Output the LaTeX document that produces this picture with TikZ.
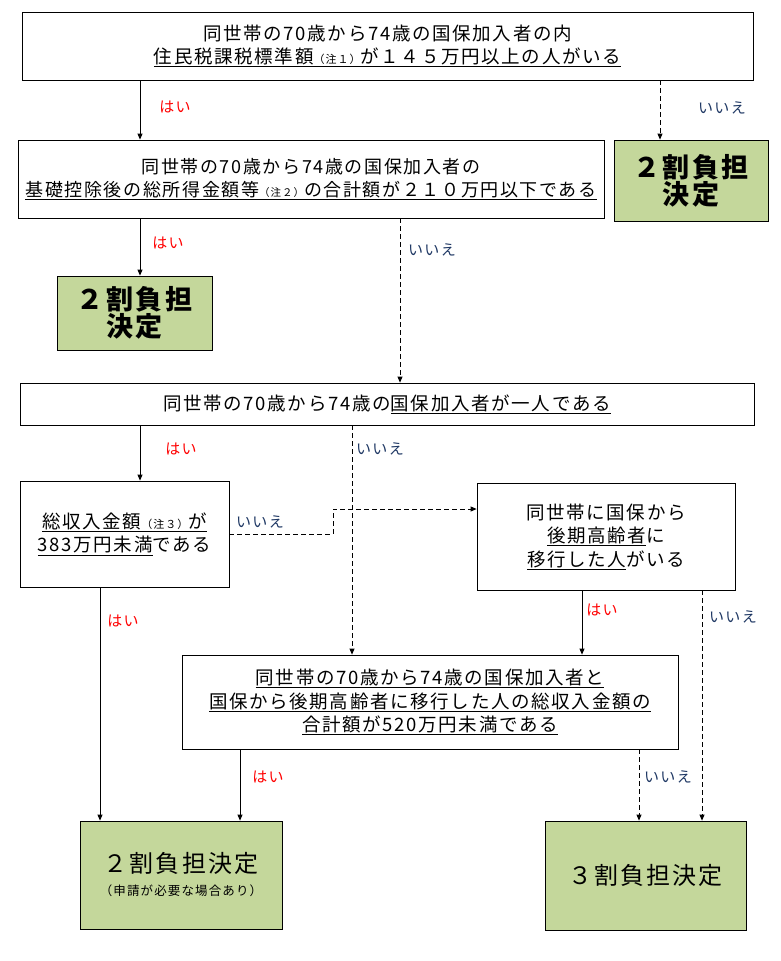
\documentclass[tikz,border=0pt]{standalone}
\usepackage{fontspec}
\setmainfont{Noto Sans CJK JP}
\newfontfamily\jp[LetterSpace=9]{Noto Sans CJK JP}
\usetikzlibrary{arrows.meta}
\definecolor{okgreen}{RGB}{196,215,155}
\definecolor{nored}{RGB}{255,0,0}
\definecolor{nonavy}{RGB}{31,56,100}
\newcommand{\chu}[1]{{\fontsize{11}{11}\selectfont #1}}
\begin{document}
\begin{tikzpicture}[x=1pt,y=-1pt,
  qbox/.style={draw=black, line width=0.8pt, inner sep=2pt, align=center,
    font=\jp\fontsize{18.5}{23.5}\selectfont},
  gbox/.style={qbox, fill=okgreen},
  yeslbl/.style={text=nored, font=\jp\fontsize{15}{15}\selectfont, inner sep=0pt},
  nolbl/.style={text=nonavy, font=\jp\fontsize{15}{15}\selectfont, inner sep=0pt},
  yesarrow/.style={draw=black, line width=0.8pt, -{Triangle[length=6pt,width=5pt]}},
  noarrow/.style={yesarrow, dash pattern=on 5pt off 3pt}
]
\fill[white] (0,0) rectangle (781,961);
\useasboundingbox (0,0) rectangle (781,961);

% boxes
\node[qbox, minimum width=731pt, minimum height=68pt] (n1) at (387.5,46)
  {同世帯の70歳から74歳の国保加入者の内\\\underline{住民税課税標準額\chu{（注１）}が１４５万円以上の人がいる}};
\node[qbox, minimum width=586pt, minimum height=78pt, inner sep=0pt,
  font=\jp\fontsize{18}{23.5}\selectfont] (n2) at (311,179)
  {同世帯の70歳から74歳の国保加入者の\\\underline{基礎控除後の総所得金額等{\fontsize{10.5}{10.5}\selectfont（注２）}の合計額が２１０万円以下である}};
\node[gbox, minimum width=154pt, minimum height=81pt,
  font=\jp\bfseries\fontsize{27}{25}\selectfont] (g1) at (691,180.5) {２割負担\\決定};
\node[gbox, minimum width=155pt, minimum height=74pt,
  font=\jp\bfseries\fontsize{27}{25}\selectfont] (g2) at (134.5,313) {２割負担\\決定};
\node[qbox, minimum width=734pt, minimum height=42pt] (n3) at (387,404)
  {同世帯の70歳から74歳の\underline{国保加入者が一人である}};
\node[qbox, minimum width=209pt, minimum height=106pt] (n4) at (124.5,534)
  {\underline{総収入金額\chu{（注３）}が}\\\underline{383万円未満}である};
\node[qbox, minimum width=258pt, minimum height=107pt] (n5) at (606,536.5)
  {同世帯に国保から\\\underline{後期高齢者}に\\\underline{移行した人}がいる};
\node[qbox, minimum width=496pt, minimum height=94pt] (n6) at (430,702)
  {\underline{同世帯の70歳から74歳の国保加入者と}\\\underline{国保から後期高齢者に移行した人の総収入金額の}\\\underline{合計額が520万円未満である}};
\node[gbox, minimum width=202pt, minimum height=108pt,
  font=\jp\fontsize{12.5}{23}\selectfont] (g3) at (181,875)
  {{\fontsize{24}{24}\selectfont ２割負担決定}\\（申請が必要な場合あり）};
\node[gbox, minimum width=201pt, minimum height=109pt,
  font=\jp\fontsize{24}{24}\selectfont] (g4) at (645.5,875.5) {３割負担決定};

% helper coordinates
\coordinate (xa) at (140,0);
\coordinate (xb) at (660,0);
\coordinate (xc) at (400,0);
\coordinate (xd) at (352,0);
\coordinate (xe) at (582,0);
\coordinate (xf) at (702,0);
\coordinate (xg) at (100,0);
\coordinate (xh) at (240,0);
\coordinate (xi) at (639,0);
\coordinate (bend) at (333,509);

% connectors
\draw[yesarrow] (n1.south -| xa) -- (n2.north -| xa);
\draw[noarrow] (n1.south -| xb) -- (g1.north -| xb);
\draw[yesarrow] (n2.south -| xa) -- (g2.north -| xa);
\draw[noarrow] (n2.south -| xc) -- (n3.north -| xc);
\draw[yesarrow] (n3.south -| xa) -- (n4.north -| xa);
\draw[noarrow] (n3.south -| xd) -- (n6.north -| xd);
\draw[noarrow] (n4.east) -| (bend) -- (bend -| n5.west);
\draw[yesarrow] (n5.south -| xe) -- (n6.north -| xe);
\draw[noarrow] (n5.south -| xf) -- (g4.north -| xf);
\draw[yesarrow] (n4.south -| xg) -- (g3.north -| xg);
\draw[yesarrow] (n6.south -| xh) -- (g3.north -| xh);
\draw[noarrow] (n6.south -| xi) -- (g4.north -| xi);

% labels
\node[yeslbl] (l1) at (175,107) {はい};
\node[nolbl] (l2) at (722,108) {いいえ};
\node[yeslbl] (l3) at (168,243) {はい};
\node[nolbl] (l4) at (432,250) {いいえ};
\node[yeslbl] (l5) at (181,449) {はい};
\node[nolbl] (l6) at (380,449) {いいえ};
\node[nolbl] (l7) at (260,522) {いいえ};
\node[yeslbl] (l8) at (602,610) {はい};
\node[nolbl] (l9) at (733,617) {いいえ};
\node[yeslbl] (l10) at (123,621) {はい};
\node[yeslbl] (l11) at (268,777) {はい};
\node[nolbl] (l12) at (668,777) {いいえ};
\end{tikzpicture}
\end{document}
